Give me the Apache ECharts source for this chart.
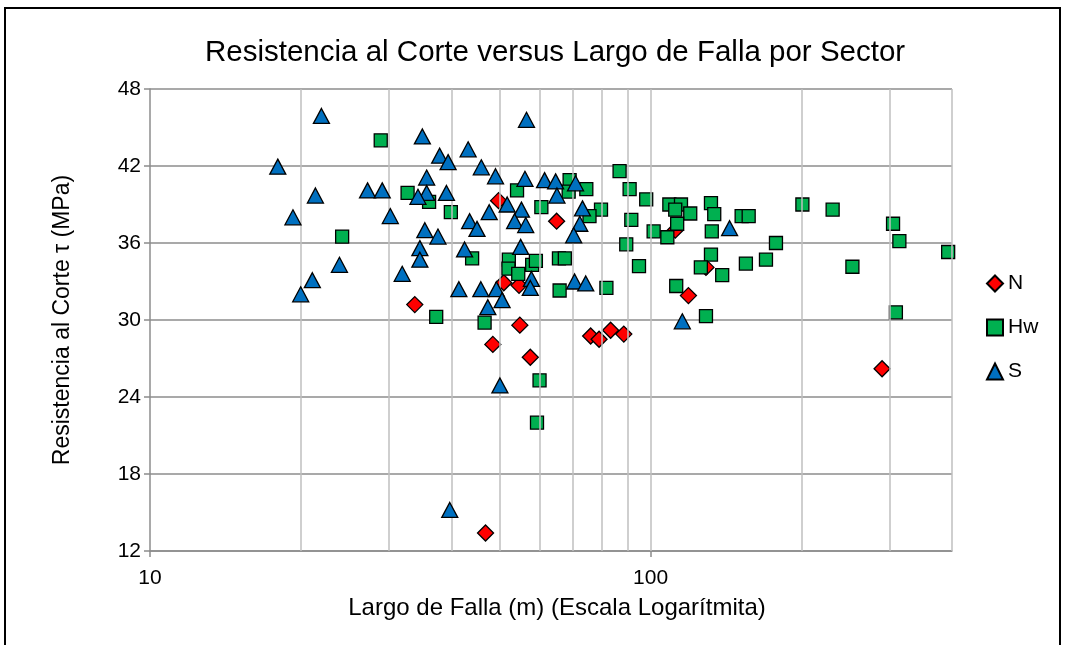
<!DOCTYPE html>
<html>
<head>
<meta charset="utf-8">
<title>Resistencia al Corte versus Largo de Falla por Sector</title>
<script src="https://cdn.jsdelivr.net/npm/echarts@6/dist/echarts.min.js"></script>
<style>
  html, body { margin: 0; padding: 0; background: #fff; }
  #chart { width: 1065px; height: 645px; }
</style>
</head>
<body>
<div id="chart"></div>
<script>
// Largo de falla (m) y resistencia al corte (MPa) por sector
const seriesNames = ['N', 'Hw', 'S'];

const sectorN = [
  [33.8, 31.2], [48.4, 28.1], [49.7, 39.3], [50.9, 32.9], [54.6, 32.7],
  [54.8, 29.6], [57.5, 27.1], [46.8, 13.4], [64.9, 37.7], [75.9, 28.75],
  [78.9, 28.5], [83.2, 29.2], [88.4, 28.9], [112, 37.0], [119, 31.9],
  [129, 34.1], [290, 26.2]
];

const sectorHw = [
  [28.9, 44.0], [32.7, 39.9], [24.2, 36.5], [36.1, 39.2], [39.9, 38.4],
  [44.0, 34.8], [54.1, 40.1], [60.5, 38.8], [52.1, 34.7], [52.0, 34.0],
  [54.4, 33.6], [58.0, 34.3], [59.0, 34.6], [65.6, 34.8], [67.4, 34.8],
  [65.8, 32.3], [68.9, 40.9], [68.6, 40.0], [74.4, 40.2], [79.6, 38.6],
  [75.5, 38.1], [81.6, 32.5], [86.7, 41.6], [90.8, 40.2], [98.0, 39.4],
  [91.5, 37.8], [101.4, 36.9], [89.4, 35.9], [94.8, 34.2], [37.3, 30.25],
  [46.6, 29.8], [60.0, 25.3], [59.3, 22.0], [109, 39.0], [115, 39.0],
  [112, 38.6], [120, 38.3], [132, 39.1], [134, 38.25], [113, 37.5],
  [108, 36.45], [132.5, 36.9], [152, 38.1], [157, 38.1], [201, 39.0],
  [231, 38.6], [305, 37.5], [314, 36.15], [393, 35.3], [178, 36.0],
  [170, 34.7], [155, 34.4], [132, 35.1], [126, 34.1], [139, 33.5],
  [253, 34.15], [112.5, 32.65], [129, 30.3], [309, 30.6]
];

const sectorS = [
  [22.0, 45.9], [18.0, 41.95], [21.4, 39.7], [19.3, 38.0], [27.2, 40.1],
  [29.1, 40.1], [30.2, 38.1], [23.9, 34.3], [21.1, 33.1], [20.0, 32.0],
  [31.9, 33.6], [35.0, 44.3], [37.9, 42.8], [39.4, 42.3], [43.2, 43.3],
  [56.5, 45.6], [45.9, 41.9], [49.0, 41.2], [35.7, 41.1], [39.1, 39.9],
  [35.7, 39.9], [34.3, 39.6], [35.4, 37.0], [37.6, 36.5], [34.6, 35.6],
  [34.6, 34.7], [47.6, 38.4], [51.7, 39.0], [55.2, 38.6], [53.5, 37.7],
  [56.3, 37.4], [43.5, 37.7], [45.0, 37.1], [42.5, 35.5], [55.0, 35.7],
  [56.1, 41.0], [41.4, 32.4], [45.8, 32.4], [49.2, 32.4], [47.3, 31.0],
  [50.5, 31.55], [57.8, 33.2], [57.5, 32.5], [70.5, 33.0], [74.2, 32.85],
  [61.4, 40.9], [64.6, 40.8], [70.8, 40.65], [65.0, 39.7], [73.1, 38.7],
  [72.2, 37.5], [70.2, 36.6], [50.0, 24.9], [39.7, 15.2], [143.8, 37.15],
  [115.7, 29.9]
];

// Etiquetas del eje X (décadas) y líneas verticales de la escala logarítmica
const xTickLabels = [10, 100];
const xGridValues = [20, 30, 40, 50, 60, 70, 80, 90, 100, 200, 300, 400];
const yTickLabels = [12, 18, 24, 30, 36, 42, 48];

const FONT = '"Liberation Sans", Arial, sans-serif';
const darkGrid = '#8C8C8C';
const lightGrid = '#BFBFBF';

const chart = echarts.init(document.getElementById('chart'), null, { renderer: 'canvas' });

const markerStyle = { borderColor: '#000', borderWidth: 1.3, opacity: 1 };

chart.setOption({
  animation: false,
  backgroundColor: '#fff',
  textStyle: { fontFamily: FONT },
  title: {
    text: 'Resistencia al Corte versus Largo de Falla por Sector',
    left: 200,
    top: 33,
    textStyle: { fontFamily: FONT, fontSize: 29.5, fontWeight: 'normal', color: '#000' }
  },
  graphic: [{
    type: 'rect',
    shape: { x: 5, y: 8, width: 1055, height: 700 },
    style: { fill: 'none', stroke: '#000', lineWidth: 2 },
    silent: true,
    z: -1
  }],
  grid: { left: 150, right: 113, top: 89, bottom: 94, containLabel: false },
  legend: {
    data: seriesNames,
    orient: 'vertical',
    left: 981,
    top: 268,
    itemGap: 23,
    itemWidth: 16,
    itemHeight: 16,
    textStyle: { fontFamily: FONT, fontSize: 21, color: '#000' }
  },
  xAxis: {
    type: 'log',
    logBase: 10,
    min: 10,
    max: 400,
    name: 'Largo de Falla (m) (Escala Logarítmita)',
    nameLocation: 'middle',
    nameGap: 45,
    nameTextStyle: { fontFamily: FONT, fontSize: 24, color: '#000', padding: [0, 0, 0, 12] },
    axisLine: { show: true, lineStyle: { color: darkGrid, width: 1.5 } },
    axisTick: { show: true, inside: false, length: 6, lineStyle: { color: darkGrid, width: 1.5 } },
    axisLabel: {
      fontFamily: FONT, fontSize: 21, color: '#000', margin: 17,
      showMaxLabel: false,
      formatter: function (v) {
        return xTickLabels.some(function (t) { return Math.abs(t - v) < 1e-6 * t; }) ? String(Math.round(v)) : '';
      }
    },
    splitLine: { show: false },
    minorTick: { show: false },
    minorSplitLine: { show: false }
  },
  yAxis: {
    type: 'value',
    min: yTickLabels[0],
    max: yTickLabels[yTickLabels.length - 1],
    interval: 6,
    name: 'Resistencia al Corte τ (MPa)',
    nameLocation: 'middle',
    nameGap: 76,
    nameRotate: 90,
    nameTextStyle: { fontFamily: FONT, fontSize: 23, color: '#000' },
    axisLine: { show: true, lineStyle: { color: darkGrid, width: 1.5 } },
    axisTick: { show: true, inside: false, length: 6, lineStyle: { color: darkGrid, width: 1.5 } },
    axisLabel: { fontFamily: FONT, fontSize: 21, color: '#000', margin: 9 },
    splitLine: { show: true, lineStyle: { color: darkGrid, width: 1.5 } }
  },
  series: [
    {
      name: 'gridX',
      type: 'scatter',
      data: [],
      silent: true,
      z: 1,
      markLine: {
        silent: true,
        symbol: 'none',
        label: { show: false },
        lineStyle: { color: lightGrid, width: 1.5, type: 'solid' },
        emphasis: { disabled: true },
        data: xGridValues.map(function (v) { return { xAxis: v }; })
      }
    },
    {
      name: 'N',
      type: 'scatter',
      data: sectorN,
      symbol: 'diamond',
      symbolSize: 16,
      itemStyle: Object.assign({ color: '#FF0000' }, markerStyle),
      z: 3
    },
    {
      name: 'Hw',
      type: 'scatter',
      data: sectorHw,
      symbol: 'rect',
      symbolSize: 13,
      itemStyle: Object.assign({ color: '#00B050' }, markerStyle),
      z: 4
    },
    {
      name: 'S',
      type: 'scatter',
      data: sectorS,
      symbol: 'triangle',
      symbolSize: [16, 15],
      itemStyle: Object.assign({ color: '#0070C0' }, markerStyle),
      z: 5
    }
  ]
});
</script>
</body>
</html>
